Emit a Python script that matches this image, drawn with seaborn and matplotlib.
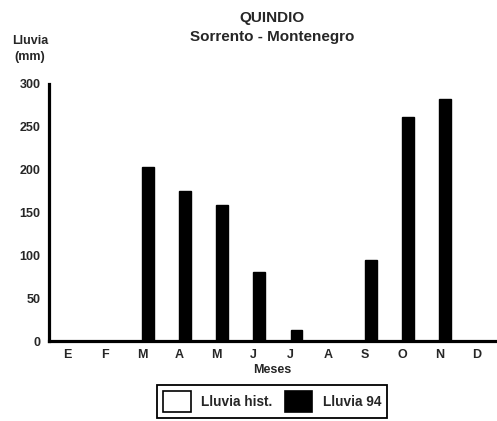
import numpy as np
import pandas as pd
import matplotlib
matplotlib.use("Agg")
import matplotlib.pyplot as plt
import seaborn as sns
from matplotlib.patches import Patch

# data
meses = ["Ene", "Feb", "Mar", "Abr", "May", "Jun", "Jul", "Ago", "Sep", "Oct", "Nov", "Dic"]
letras = ["E", "F", "M", "A", "M", "J", "J", "A", "S", "O", "N", "D"]
lluvia_hist = [0, 0, 0, 0, 0, 0, 0, 0, 0, 0, 0, 0]
lluvia_94 = [0, 0, 203, 175, 159, 80, 13, 0, 94, 262, 283, 0]
series = ["Lluvia hist.", "Lluvia 94"]
colores = {"Lluvia hist.": "white", "Lluvia 94": "black"}

df = pd.DataFrame({
    "mes": meses * 2,
    "serie": [series[0]] * 12 + [series[1]] * 12,
    "lluvia": lluvia_hist + lluvia_94,
})

sns.set_style("white")
plt.rcParams["font.family"] = ["Liberation Sans", "DejaVu Sans"]
plt.rcParams["font.weight"] = "bold"

fig = plt.figure(figsize=(4.97, 4.21), dpi=100)
ax = fig.add_axes([49 / 497, 80 / 421, 446 / 497, 257 / 421])

sns.barplot(data=df, x="mes", y="lluvia", hue="serie", order=meses,
            hue_order=series, palette=colores, edgecolor="black",
            linewidth=1, width=0.64, ax=ax, legend=False)

ax.set_xlim(-0.5, 11.5)
ax.set_ylim(0, 300)
ax.set_yticks([0, 50, 100, 150, 200, 250, 300])
ax.set_xticks(range(12))
ax.set_xticklabels(letras)
ax.set_xticks(np.arange(0.5, 11.6, 1), minor=True)
ax.tick_params(axis="both", which="major", length=0, labelsize=9, pad=6)
ax.tick_params(axis="x", which="minor", length=3, width=1, direction="out")
for lbl in ax.get_xticklabels() + ax.get_yticklabels():
    lbl.set_fontweight("bold")

sns.despine(ax=ax)
for s in ["left", "bottom"]:
    ax.spines[s].set_linewidth(2.3)
    ax.spines[s].set_color("black")

ax.set_xlabel("Meses", fontsize=9, fontweight="bold", labelpad=2)
ax.set_ylabel("")
ax.set_title("QUINDIO\nSorrento - Montenegro", fontsize=11, fontweight="heavy",
             pad=31, linespacing=1.45)
fig.text(30 / 497, 1 - 49 / 421, "Lluvia\n(mm)", ha="center", va="center",
         fontsize=9, fontweight="bold", linespacing=1.45)

handles = [Patch(facecolor=colores[s], edgecolor="black", linewidth=1.2) for s in series]
leg = fig.legend(handles, series, loc="upper center",
                 bbox_to_anchor=(272 / 497, 1 - 385 / 421), ncol=2,
                 frameon=True, fancybox=False, framealpha=1, edgecolor="black",
                 handlelength=2.05, handleheight=2.0, columnspacing=0.9,
                 handletextpad=0.75, borderpad=0.45, borderaxespad=0,
                 prop={"size": 9.8, "weight": "bold"})
leg.get_frame().set_linewidth(1.3)

fig.savefig("out.png", dpi=100)
